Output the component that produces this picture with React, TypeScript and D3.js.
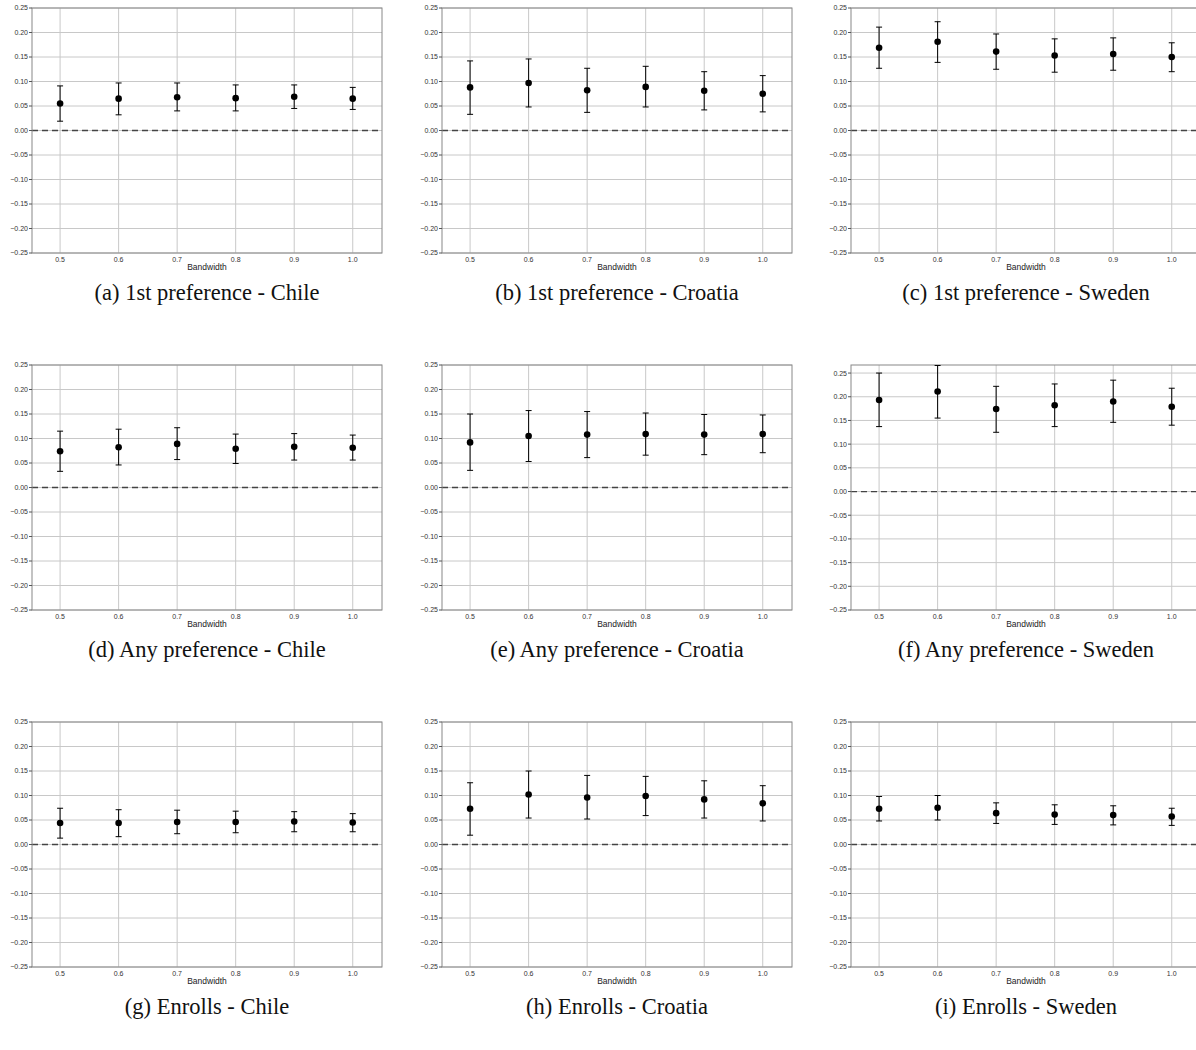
import React from 'react'
import * as d3 from 'd3'

// [estimate, lower, upper] for bandwidths 0.5..1.0
const bandwidths = [0.5, 0.6, 0.7, 0.8, 0.9, 1.0]
const yTicks = [0.25, 0.2, 0.15, 0.1, 0.05, 0, -0.05, -0.1, -0.15, -0.2, -0.25]

const chile1 = [[0.055, 0.019, 0.091], [0.065, 0.032, 0.097], [0.068, 0.040, 0.097], [0.066, 0.040, 0.093], [0.069, 0.045, 0.093], [0.065, 0.043, 0.088]]
const croatia1 = [[0.088, 0.033, 0.142], [0.097, 0.048, 0.146], [0.082, 0.037, 0.127], [0.089, 0.048, 0.131], [0.081, 0.042, 0.120], [0.075, 0.038, 0.112]]
const sweden1 = [[0.169, 0.127, 0.211], [0.181, 0.139, 0.222], [0.161, 0.125, 0.197], [0.153, 0.119, 0.187], [0.156, 0.123, 0.189], [0.150, 0.120, 0.179]]
const chileAny = [[0.074, 0.033, 0.115], [0.082, 0.046, 0.119], [0.089, 0.057, 0.122], [0.079, 0.049, 0.109], [0.083, 0.056, 0.110], [0.081, 0.056, 0.107]]
const croatiaAny = [[0.092, 0.035, 0.150], [0.105, 0.053, 0.157], [0.108, 0.061, 0.155], [0.109, 0.066, 0.152], [0.108, 0.067, 0.149], [0.109, 0.071, 0.148]]
const swedenAny = [[0.193, 0.137, 0.250], [0.211, 0.155, 0.266], [0.174, 0.125, 0.222], [0.182, 0.137, 0.227], [0.190, 0.146, 0.235], [0.179, 0.140, 0.218]]
const chileEnr = [[0.044, 0.013, 0.074], [0.044, 0.016, 0.071], [0.046, 0.022, 0.070], [0.046, 0.024, 0.068], [0.047, 0.026, 0.067], [0.045, 0.026, 0.063]]
const croatiaEnr = [[0.073, 0.019, 0.126], [0.102, 0.054, 0.150], [0.096, 0.052, 0.141], [0.099, 0.059, 0.139], [0.092, 0.054, 0.130], [0.084, 0.048, 0.120]]
const swedenEnr = [[0.073, 0.048, 0.098], [0.075, 0.050, 0.100], [0.064, 0.043, 0.085], [0.061, 0.041, 0.081], [0.060, 0.040, 0.079], [0.057, 0.039, 0.074]]

const panels = [
  { data: chile1, caption: '(a) 1st preference - Chile', yMax: 0.25 },
  { data: croatia1, caption: '(b) 1st preference - Croatia', yMax: 0.25 },
  { data: sweden1, caption: '(c) 1st preference - Sweden', yMax: 0.25 },
  { data: chileAny, caption: '(d) Any preference - Chile', yMax: 0.25 },
  { data: croatiaAny, caption: '(e) Any preference - Croatia', yMax: 0.25 },
  { data: swedenAny, caption: '(f) Any preference - Sweden', yMax: 0.267 },
  { data: chileEnr, caption: '(g) Enrolls - Chile', yMax: 0.25 },
  { data: croatiaEnr, caption: '(h) Enrolls - Croatia', yMax: 0.25 },
  { data: swedenEnr, caption: '(i) Enrolls - Sweden', yMax: 0.25 },
]

const colLeft = [32, 442, 851]
const rowTop = [8, 365, 722]
const W = 350
const H = 245

const Panel = ({ p, left, top }: { p: any; left: number; top: number }) => {
  const x = d3.scaleLinear().domain([0.452, 1.05]).range([0, W])
  const y = d3.scaleLinear().domain([-0.25, p.yMax]).range([H, 0])
  const font = 'Liberation Sans, Arial, sans-serif'
  return (
    <g transform={`translate(${left},${top})`}>
      {bandwidths.map(b => (
        <line key={'gx' + b} x1={x(b)} x2={x(b)} y1={0} y2={H} stroke="#c8c8c8" strokeWidth={1} />
      ))}
      {yTicks.map(t => (
        <line key={'gy' + t} x1={0} x2={W} y1={y(t)} y2={y(t)} stroke="#c8c8c8" strokeWidth={1} />
      ))}
      <line x1={0} x2={W} y1={y(0)} y2={y(0)} stroke="#444" strokeWidth={1.3} strokeDasharray="6,4" />
      <rect x={0} y={0} width={W} height={H} fill="none" stroke="#888" strokeWidth={1} />
      {yTicks.map(t => (
        <g key={'ty' + t}>
          <line x1={-3} x2={0} y1={y(t)} y2={y(t)} stroke="#555" />
          <text x={-4} y={y(t)} dy="0.35em" textAnchor="end" fontSize={7} fontFamily={font} fill="#333">
            {t.toFixed(2).replace('-', '\u2212')}
          </text>
        </g>
      ))}
      {bandwidths.map(b => (
        <text key={'tx' + b} x={x(b)} y={H + 9} textAnchor="middle" fontSize={7} fontFamily={font} fill="#333">
          {b.toFixed(1)}
        </text>
      ))}
      <text x={W / 2} y={H + 17} textAnchor="middle" fontSize={8.5} fontFamily={font} fill="#222">Bandwidth</text>
      {p.data.map((d: number[], i: number) => {
        const cx = x(bandwidths[i])
        return (
          <g key={'pt' + i}>
            <line x1={cx} x2={cx} y1={y(d[1])} y2={y(d[2])} stroke="#000" strokeWidth={1} />
            <line x1={cx - 3} x2={cx + 3} y1={y(d[1])} y2={y(d[1])} stroke="#000" strokeWidth={1} />
            <line x1={cx - 3} x2={cx + 3} y1={y(d[2])} y2={y(d[2])} stroke="#000" strokeWidth={1} />
            <circle cx={cx} cy={y(d[0])} r={3.3} fill="#000" />
          </g>
        )
      })}
      <text x={W / 2} y={H + 47} textAnchor="middle" fontSize={22.5} fontFamily="Liberation Serif, Times New Roman, serif" fill="#111">
        {p.caption}
      </text>
    </g>
  )
}

export default function App() {
  return (
    <svg width={1196} height={1050} style={{ position: 'absolute', left: 0, top: 0, background: '#fff' }}>
      <rect width={1196} height={1050} fill="#fff" />
      {panels.map((p, i) => (
        <Panel key={i} p={p} left={colLeft[i % 3]} top={rowTop[Math.floor(i / 3)]} />
      ))}
    </svg>
  )
}
